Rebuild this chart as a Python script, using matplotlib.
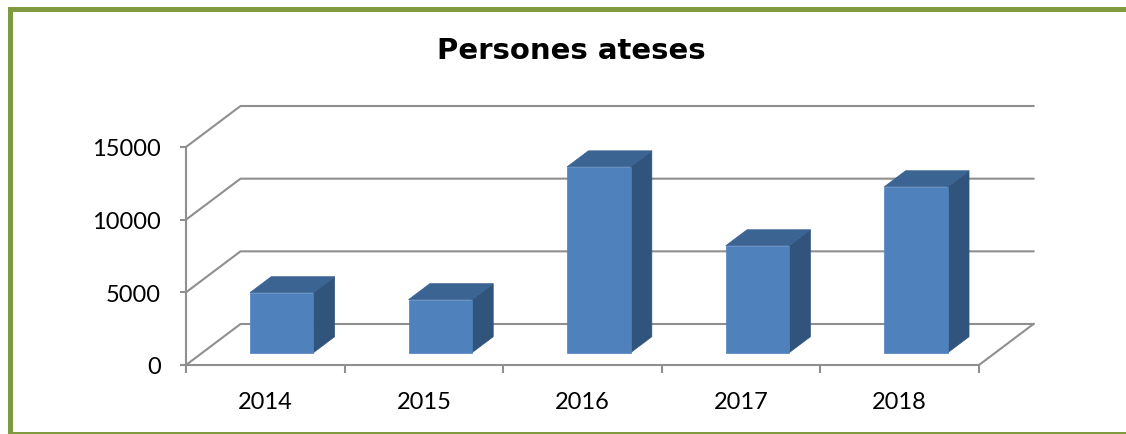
import matplotlib
matplotlib.use("Agg")
import matplotlib.pyplot as plt
from matplotlib.patches import Polygon, Rectangle

years = ["2014", "2015", "2016", "2017", "2018"]
persons = [4130, 3650, 12790, 7360, 11420]
y_ticks = [0, 5000, 10000, 15000]
title = "Persones ateses"

W, H = 1126, 435
GREEN = "#7F9A3F"
GRID = "#8F8F8F"
FRONT, TOP, SIDE = "#4F81BD", "#3C6492", "#31547C"

fig = plt.figure(figsize=(W / 100, H / 100), dpi=100, facecolor="white")

# outer frame
def frame(x, y, w, h):
    fig.add_artist(Rectangle((x / W, 1 - (y + h) / H), w / W, h / H, transform=fig.transFigure,
                             facecolor=GREEN, edgecolor="none"))
frame(8, 8, 1118, 5)
frame(8, 8, 5, 427)
frame(8, 433, 1118, 2)

# axes = the front plane of the 3D box
L, R, T, B = 186, 979, 148, 366
ax = fig.add_axes([L / W, 1 - B / H, (R - L) / W, (B - T) / H])
ax.set_xlim(0, len(years))
ax.set_ylim(0, y_ticks[-1])
ax.patch.set_alpha(0)

# oblique depth, in data units
DX = 54.5 / ((R - L) / len(years))
DY = 41 / ((B - T) / y_ticks[-1])
def P(x, y, d=0.0):
    return (x + DX * d, y + DY * d)

lw = 1.5
for v in y_ticks:
    xs, ys = zip(P(0, v, 0), P(0, v, 1), P(len(years), v, 1))
    ax.plot(xs, ys, color=GRID, lw=lw, clip_on=False, zorder=1, solid_capstyle="projecting")
xs, ys = zip(P(len(years), 0, 0), P(len(years), 0, 1))
ax.plot(xs, ys, color=GRID, lw=lw, clip_on=False, zorder=1)

# bars
bw, d0, d1 = 0.40, 0.30, 0.69
for i, v in enumerate(persons):
    x0, x1 = i + 0.5 - bw / 2, i + 0.5 + bw / 2
    kw = dict(clip_on=False, zorder=3, lw=0.5)
    ax.add_patch(Polygon([P(x1, 0, d0), P(x1, 0, d1), P(x1, v, d1), P(x1, v, d0)],
                         facecolor=SIDE, edgecolor=SIDE, **kw))
    ax.add_patch(Polygon([P(x0, v, d0), P(x1, v, d0), P(x1, v, d1), P(x0, v, d1)],
                         facecolor=TOP, edgecolor=TOP, **kw))
    ax.add_patch(Polygon([P(x0, 0, d0), P(x1, 0, d0), P(x1, v, d0), P(x0, v, d0)],
                         facecolor=FRONT, edgecolor=FRONT, **kw))

for s in ("top", "right"):
    ax.spines[s].set_visible(False)
for s in ("left", "bottom"):
    ax.spines[s].set_color(GRID)
    ax.spines[s].set_linewidth(lw)

ax.set_yticks(y_ticks)
ax.set_yticklabels([""] * len(y_ticks))
ax.set_xticks(range(len(years) + 1))
ax.set_xticklabels([""] * (len(years) + 1))
ax.tick_params(axis="y", length=4.5, width=lw, color=GRID)
ax.tick_params(axis="x", length=6, width=lw, color=GRID)
for v in y_ticks:
    ax.annotate(str(v), xy=(0, v), xytext=(-25, -2), textcoords="offset pixels",
                ha="right", va="center", fontname="Lato", fontsize=17, color="black",
                annotation_clip=False)
for i, yr in enumerate(years):
    ax.annotate(yr, xy=(i + 0.5, 0), xytext=(0, -37), textcoords="offset pixels",
                ha="center", va="center", fontname="Lato", fontsize=17, color="black",
                annotation_clip=False)

fig.text(571 / W, 1 - 51 / H, title, ha="center", va="center",
         fontname="DejaVu Sans", fontweight="bold", fontsize=21, color="black")

fig.savefig("out.png", dpi=100)
